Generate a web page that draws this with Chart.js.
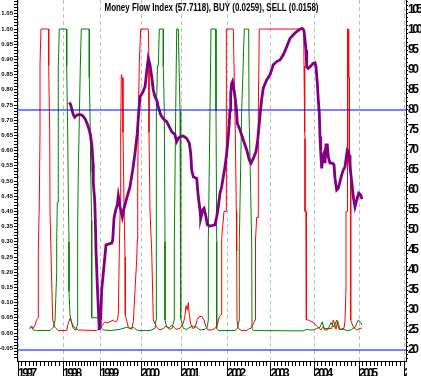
<!DOCTYPE html>
<html>
<head>
<meta charset="utf-8">
<script src="https://cdn.jsdelivr.net/npm/chart.js@4.4.1/dist/chart.umd.min.js"></script>
<style>
    html, body { margin: 0; padding: 0; background: #fff; }
    #wrap { width: 421px; height: 376px; }
</style>
</head>
<body>
<div id="wrap"><canvas id="mfi-chart" width="421" height="376"></canvas></div>
<script>
// DADOS (x = numero da barra semanal, 0 = inicio de 1997)
const titleText = 'Money Flow Index (57.7118), BUY (0.0259), SELL (0.0158)';

const yearLabels = ['1997', '1998', '1999', '2000', '2001', '2002', '2003', '2004', '2005', '2006'];
const yearStarts = [0, 45, 82, 123, 163, 209, 252.5, 296, 341, 386];

const mfiLevels = [80, 20]; // linhas azuis

// Money Flow Index (eixo direito)
const mfi = [
    [51.3, 81.9], [52.7, 81.3], [54, 80], [55.3, 78.8], [56.7, 78.2], [59.3, 78.8], [62, 78.9],
    [64.7, 78.6], [67.3, 77.7], [69.3, 76.5], [71.3, 75], [72.7, 73.3], [74, 70.8], [75, 66.7],
    [75.3, 61.8], [76.7, 57.5], [77.3, 52.5], [78, 45], [79.5, 35], [81.3, 25], [82.7, 28.3],
    [83.7, 35], [85.3, 39.2], [88, 46.3], [93.7, 46.7], [94.7, 47.5], [96, 52.9], [97.7, 55],
    [99.3, 56.3], [100.3, 58.5], [102, 55.8], [104.3, 53.3], [106, 55.4], [108.7, 57.9],
    [112, 60.8], [114.7, 65], [117, 69.2], [119.3, 74.2], [120.5, 78.8], [122, 83.3],
    [124.3, 84.2], [127, 85.8], [128.7, 89.6], [130.3, 92.9], [132, 91.3], [133.7, 88.3],
    [135.3, 85], [137, 83.3], [138.7, 82.5], [140.3, 80.8], [142.7, 78.8], [145.3, 77.8],
    [148.7, 77.1], [151.3, 75.8], [153.7, 74.6], [157, 73.8], [158.7, 72.1], [160.3, 72.9],
    [162, 73.3], [165.3, 73.5], [168.7, 72.9], [171.3, 71.7], [172.7, 69.2], [173.7, 65],
    [175.3, 63.3], [178.7, 62.9], [180.3, 58.3], [182, 55], [182.7, 52.9], [184.7, 55],
    [186, 55.4], [188, 53.3], [189.3, 51.3], [192, 51], [197, 51.3], [198.7, 53.3],
    [200.3, 55.8], [202, 59.2], [203.7, 60.8], [205.3, 63.3], [207, 65.8], [208.7, 69.2],
    [209.7, 71.7], [211, 75.8], [212, 80], [212.7, 84], [213.5, 86.5], [214.5, 87.1],
    [215.5, 85.8], [217, 83.3], [218.5, 80], [219.3, 76.7], [222, 75], [225.3, 72.5],
    [228.7, 70], [231.3, 67.5], [233, 66.7], [235.3, 67.9], [238, 69.6], [239.7, 72.5],
    [241.3, 76.7], [242.5, 80], [244, 83.3], [245.3, 85.5], [248.7, 87.5], [252, 88.8],
    [255.3, 91.3], [258.7, 92.1], [262, 92.5], [265.3, 93.8], [268.7, 95.8], [272, 97.9],
    [275.3, 98.8], [278.7, 99.6], [282, 100.2], [283.7, 100.4], [285, 100.3], [286, 99.8],
    [287, 97.5], [288, 95], [288.7, 90.8], [290.3, 90.4], [292, 90.8], [295.3, 91.7],
    [297, 91.8], [298, 90.8], [299.3, 86.7], [300.3, 82.5], [301.3, 79.2], [302, 73.3],
    [302.7, 69.6], [303.7, 65.4], [304.7, 68.3], [306, 69.2], [307, 66.7], [308, 71.3],
    [309.3, 71.3], [310.3, 68.3], [312, 66.7], [314.7, 66.7], [316, 66.3], [317, 62.9],
    [318.7, 60], [320.3, 60.4], [322, 62.1], [323.7, 63.8], [325.3, 65], [327, 65.8],
    [329.3, 70], [330.7, 69.6], [332, 65.8], [333.7, 62.1], [335.3, 58.3], [337, 55.8],
    [338.7, 57.5], [340.7, 59.2], [342.7, 58.8], [344, 57.7]
];

// sinal de venda (eixo esquerdo)
const sell = [
    [11.7, 0.018], [13.7, 0.023], [15.3, 0.015], [17, 0.026], [18.5, 0.043], [20.3, 0.05],
    [20.3, 0.27], [21.3, 0.43], [22, 0.66], [22, 0.885], [23, 1],
    [30.7, 1], [30.7, 0.88], [31.7, 0.66], [32, 0.4], [33.7, 0.17], [34.7, 0.043], [37, 0.019],
    [40.3, 0.008], [48.7, 0.008], [50.3, 0.032], [52, 0.048], [53.7, 0.034], [56, 0.019],
    [60.3, 0.01], [78.7, 0.008], [80.3, 0.012], [83.7, 0.023], [87, 0.037], [89, 0.033],
    [92, 0.037], [95.3, 0.043], [97, 0.037], [99, 0.04], [100.3, 0.06], [101.3, 0.27],
    [102.3, 0.43], [102.7, 0.66], [103.3, 0.85], [104.3, 0.84], [105, 0.66], [106, 0.43],
    [107, 0.25], [107.3, 0.06], [110.3, 0.019], [113.7, 0.012], [115.3, 0.037], [117, 0.14],
    [118.7, 0.24], [119.3, 0.306], [119.7, 0.48], [120.3, 0.7], [121.3, 0.89], [122.7, 1],
    [130.3, 1], [131, 0.88], [131, 0.66], [132, 0.4], [133.7, 0.27], [135.3, 0.043],
    [138.7, 0.019], [142, 0.01], [145.3, 0.015], [148, 0.023], [151, 0.017], [153.7, 0.026],
    [156, 0.019], [158, 0.012], [162, 0.015], [165, 0.03], [166.7, 0.05], [168, 0.09],
    [169.3, 0.075], [170.3, 0.1], [171.3, 0.06], [172.7, 0.03], [174.7, 0.015], [177.3, 0.019],
    [179.3, 0.045], [181, 0.054], [184, 0.054], [186, 0.043], [188, 0.02], [190, 0.01],
    [193.7, 0.01], [197, 0.015], [199.3, 0.026], [201.3, 0.054], [203, 0.06], [203.7, 0.31],
    [206, 0.4], [208, 0.4], [208, 0.73], [208.7, 1],
    [215.3, 1], [216.3, 0.83], [217.3, 0.66], [218.3, 0.4], [218.7, 0.27], [219, 0.043],
    [220.3, 0.015], [223.7, 0.008], [228.7, 0.008], [230.3, 0.012], [233.7, 0.018],
    [235.3, 0.03], [237, 0.043], [237.5, 0.306], [238.7, 0.38], [240.3, 0.38], [240.3, 0.73],
    [241.3, 1],
    [285.7, 1], [286, 0.878], [286.7, 0.66], [287, 0.64], [287, 0.4], [288, 0.4], [288, 0.15],
    [288.7, 0.043], [290.3, 0.043], [292, 0.04], [295.3, 0.034], [298.7, 0.023], [301.3, 0.015],
    [303, 0.01], [304.7, 0.019], [307, 0.015], [310.3, 0.015], [313.7, 0.015], [315.3, 0.043],
    [318, 0.012], [319.7, 0.04], [322, 0.01], [323.7, 0.015], [326, 0.015], [327, 0.04],
    [328, 0.15], [328, 0.4], [329.3, 0.4], [329.3, 0.88], [329.7, 1], [330.3, 1], [330.7, 0.84],
    [331.3, 0.84], [331.3, 0.585], [332.7, 0.585], [332.7, 0.043], [335.3, 0.019],
    [338.7, 0.01], [342, 0.015], [343.7, 0.0158]
];

// sinal de compra (eixo esquerdo)
const buy = [
    [11.3, 0.015], [13.7, 0.019], [15.3, 0.01], [18.7, 0.008], [32, 0.008], [35.3, 0.019],
    [37, 0.04], [38.7, 0.2], [38.7, 0.3], [39.3, 0.43], [40.3, 0.43], [40.3, 0.878], [41.3, 1],
    [48.7, 1], [48.7, 0.878], [49.7, 0.66], [50.3, 0.45], [51, 0.3], [51, 0.136], [52, 0.06],
    [54.7, 0.019], [57, 0.01], [58, 0.01], [59.7, 0.03], [59.7, 0.37], [60.3, 0.53],
    [61.3, 0.7], [62.3, 0.878], [63.3, 1],
    [71.3, 1], [71.3, 0.84], [72.3, 0.66], [72.7, 0.53], [73.7, 0.37], [73.7, 0.05], [82, 0.05],
    [83.7, 0.015], [85.3, 0.01], [92, 0.008], [97, 0.01], [102, 0.012], [108.7, 0.019],
    [112, 0.015], [115.3, 0.019], [118.7, 0.01], [122, 0.008], [132, 0.008], [137, 0.015],
    [138, 0.043], [138, 0.3], [138.7, 0.73], [139.5, 0.878], [140.3, 0.878], [141.3, 1],
    [145.3, 1], [145.3, 0.878], [146.3, 0.73], [147, 0.3], [147, 0.043], [148.7, 0.019],
    [152, 0.012], [154, 0.015], [156.3, 0.043], [156.3, 0.3], [157.7, 0.73], [158.7, 1],
    [160.3, 1], [162, 0.73], [162.7, 0.27], [162.7, 0.05], [165.3, 0.015], [168.7, 0.012],
    [172, 0.019], [175.3, 0.023], [178.7, 0.019], [182, 0.01], [187, 0.012], [189.3, 0.019],
    [190.3, 0.043], [190.3, 0.3], [192, 0.73], [193, 1], [197.7, 1], [198, 0.73], [198.7, 0.3],
    [198.7, 0.015], [200.3, 0.008], [217, 0.008], [219.3, 0.015], [221.3, 0.043], [221.3, 0.3],
    [223.7, 0.73], [226.3, 1], [230.7, 1], [231, 0.73], [233.7, 0.3], [234, 0.015],
    [235.3, 0.008], [285.3, 0.007], [288.7, 0.012], [292, 0.01], [295.3, 0.01], [298.7, 0.015],
    [302, 0.019], [304.3, 0.037], [306.3, 0.01], [309.7, 0.01], [313, 0.034], [316, 0.019],
    [318.7, 0.043], [321, 0.012], [325.3, 0.012], [330.3, 0.007], [333.7, 0.012], [337, 0.019],
    [340.3, 0.043], [342.7, 0.034], [343.7, 0.0259]
];

// limites dos eixos
const xMin = -1, xMax = 388;
const leftMin = -0.0921, leftMax = 1.0954;
const rightMin = 17.25, rightMax = 107.5;

const sans = '"Liberation Sans", Arial, sans-serif';

// ticks: meses (pequenos) e anos (grandes)
const monthTicks = [];
for (let i = 0; i < yearStarts.length - 1; i++) {
    const a = yearStarts[i], b = yearStarts[i + 1];
    for (let m = 0; m < 12; m++) monthTicks.push(a + (b - a) * m / 12);
}
monthTicks.push(yearStarts[yearStarts.length - 1]);

const leftTicks = [];
for (let k = -8; k <= 109; k++) leftTicks.push(k / 100);
const rightTicks = [];
for (let k = 18; k <= 107; k++) rightTicks.push(k);

function yearIndex(v) {
    return yearStarts.findIndex(y => Math.abs(y - v) < 1e-6);
}

function toXY(arr) {
    return arr.map(p => ({ x: p[0], y: p[1] }));
}

// rotulos dos anos e do eixo direito sao estreitos: espaco negativo entre letras
// (esses rotulos ficam em z=1, desenhados depois dos datasets)
const narrowLabels = {
    id: 'narrowLabels',
    afterDatasetsDraw(chart) {
        chart.ctx.letterSpacing = '-2.5px';
    },
    afterDraw(chart) {
        const ctx = chart.ctx;
        const area = chart.chartArea;
        ctx.save();
        ctx.letterSpacing = '0px';
        ctx.font = 'bold 11px ' + sans;
        ctx.fillStyle = '#000';
        ctx.textAlign = 'center';
        ctx.textBaseline = 'alphabetic';
        ctx.fillText(titleText, (area.left + area.right) / 2, area.top + 11, 214);
        // o ultimo rotulo (2006) fica cortado na borda direita
        ctx.fillStyle = '#fff';
        ctx.fillRect(area.right + 1, area.bottom + 1, chart.width - area.right, chart.height - area.bottom);
        ctx.restore();
        ctx.letterSpacing = '0px';
    }
};

const datasets = [
    {
        label: 'SELL', data: toXY(sell), yAxisID: 'y', order: 3,
        borderColor: '#ff0000', borderWidth: 1
    },
    {
        label: 'BUY', data: toXY(buy), yAxisID: 'y', order: 2,
        borderColor: '#008000', borderWidth: 1
    },
    {
        label: 'Money Flow Index', data: toXY(mfi), yAxisID: 'y2', order: 1,
        borderColor: '#800080', borderWidth: 2.8
    }
];
mfiLevels.forEach(level => {
    datasets.push({
        label: 'nivel ' + level,
        data: [{ x: xMin, y: level }, { x: xMax, y: level }],
        yAxisID: 'y2', order: 0,
        borderColor: '#0000ff', borderWidth: 1
    });
});

new Chart(document.getElementById('mfi-chart').getContext('2d'), {
    type: 'line',
    data: { datasets: datasets },
    options: {
        responsive: false,
        animation: false,
        layout: { padding: 0, autoPadding: false },
        elements: {
            point: { radius: 0, hoverRadius: 0 },
            line: { tension: 0, fill: false, borderJoinStyle: 'miter' }
        },
        plugins: {
            legend: { display: false },
            tooltip: { enabled: false },
            title: { display: false }
        },
        scales: {
            xYear: {
                type: 'linear', position: 'bottom', weight: 0,
                min: xMin, max: xMax,
                afterBuildTicks: scale => { scale.ticks = yearStarts.map(v => ({ value: v })); },
                afterFit: scale => { scale.height = 0; scale.paddingLeft = 0; scale.paddingRight = 0; },
                grid: { drawOnChartArea: false, tickLength: 15, tickColor: '#000' },
                border: { display: false },
                ticks: { display: false }
            },
            x: {
                type: 'linear', position: 'bottom', weight: 1,
                min: xMin, max: xMax,
                afterBuildTicks: scale => { scale.ticks = monthTicks.map(v => ({ value: v })); },
                afterFit: scale => { scale.height = 15; scale.paddingLeft = 0; scale.paddingRight = 0; },
                grid: {
                    color: c => (c.tick && yearIndex(c.tick.value) >= 0) ? '#c0c0c0' : 'rgba(0,0,0,0)',
                    tickColor: '#000',
                    tickLength: 5
                },
                border: { color: '#000', width: 1, dash: [4, 3] },
                ticks: {
                    z: 1,
                    autoSkip: false, maxRotation: 0, minRotation: 0,
                    align: 'start', padding: 0, color: '#000',
                    font: { family: sans, size: 12, weight: 'bold' },
                    callback: value => {
                        const i = yearIndex(value);
                        return i >= 0 ? yearLabels[i] : '';
                    }
                }
            },
            y: {
                type: 'linear', position: 'left',
                min: leftMin, max: leftMax,
                afterBuildTicks: scale => { scale.ticks = leftTicks.map(v => ({ value: v })); },
                afterFit: scale => { scale.width = 17; scale.paddingTop = 0; scale.paddingBottom = 0; },
                grid: { drawOnChartArea: false, tickLength: 3, tickColor: '#000' },
                border: { color: '#000', width: 1 },
                ticks: {
                    autoSkip: false, padding: 1, color: '#000',
                    font: { family: sans, size: 6, weight: 'bold' },
                    callback: value => {
                        const k = Math.round(value * 100);
                        return (k % 5 === 0 && k >= -5 && k <= 105) ? (k / 100).toFixed(2) : '';
                    }
                }
            },
            y2: {
                type: 'linear', position: 'right',
                min: rightMin, max: rightMax,
                afterBuildTicks: scale => { scale.ticks = rightTicks.map(v => ({ value: v })); },
                afterFit: scale => { scale.width = 15; scale.paddingTop = 0; scale.paddingBottom = 0; },
                grid: { drawOnChartArea: false, tickLength: 2, tickColor: '#000' },
                border: { color: '#000', width: 1 },
                ticks: {
                    z: 1,
                    autoSkip: false, padding: 0, color: '#000',
                    font: { family: sans, size: 12, weight: 'bold' },
                    callback: value => (value % 5 === 0 && value >= 20 && value <= 105) ? String(value) : ''
                }
            }
        }
    },
    plugins: [narrowLabels]
});
</script>
</body>
</html>
